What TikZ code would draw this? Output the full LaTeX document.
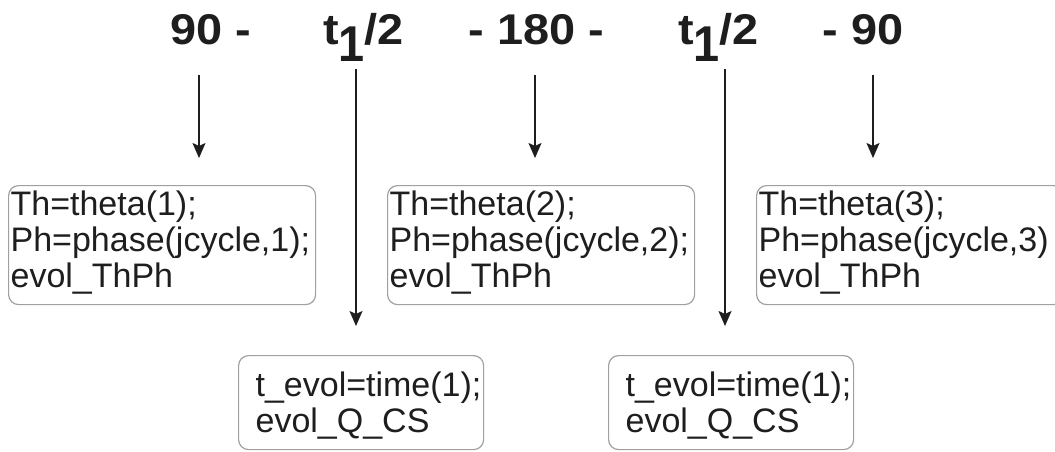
\documentclass[tikz,border=0pt]{standalone}
\usepackage{fontspec}
\setmainfont{Liberation Sans}
\usetikzlibrary{arrows.meta}
\definecolor{ink}{HTML}{1E1E1E}
\definecolor{frame}{HTML}{A0A0A0}
\tikzset{
  lbl/.style={anchor=base west, inner sep=0pt, text=ink,
    font=\fontsize{43}{43}\selectfont\bfseries},
  arr/.style={draw=ink, line width=1.7pt,
    -{Stealth[length=15pt,width=13pt,inset=3pt]}},
  codebox/.style={draw=frame, line width=1.2pt, rounded corners=10pt,
    anchor=north west, align=left, text=ink,
    font=\fontsize{34}{36}\selectfont, inner ysep=0pt},
  upbox/.style={codebox, inner xsep=2pt, text width=303pt,
    text height=30pt, text depth=89pt},
  lowbox/.style={codebox, inner xsep=1pt, text width=243pt,
    text height=41pt, text depth=53pt},
}
% wide bold labels and the half-period symbol
\newcommand\widelbl[1]{\scalebox{1.09}[1]{#1}}
\newcommand\halfperiod{t\raisebox{-17pt}{\scalebox{1}[1.17]{1}}/2}
\newcommand\ind{\hspace*{16pt}}
\begin{document}
\begin{tikzpicture}[x=1pt, y=-1pt]
  \useasboundingbox (0,0) rectangle (1055,451);
  \clip (0,0) rectangle (1055,451);
  \fill[white] (0,0) rectangle (1055,451);

  % pulse sequence
  \node[lbl] (l1) at (170,44)   {\widelbl{90 -}};
  \node[lbl] (l2) at (323,44)   {\widelbl{\halfperiod}};
  \node[lbl] (l3) at (468.7,44) {\widelbl{- 180 -}};
  \node[lbl] (l4) at (678,44)   {\widelbl{\halfperiod}};
  \node[lbl] (l5) at (822.7,44) {\widelbl{- 90}};

  % pulse blocks
  \node[upbox] (b1) at (8,185)
    {Th=theta(1);\\Ph=phase(jcycle,1);\\evol\_ThPh};
  \node[upbox] (b2) at (387,185)
    {Th=theta(2);\\Ph=phase(jcycle,2);\\evol\_ThPh};
  \node[upbox] (b3) at (756,185)
    {Th=theta(3);\\Ph=phase(jcycle,3)\\evol\_ThPh};

  % free evolution blocks
  \node[lowbox] (e1) at (238,355)
    {\ind t\_evol=time(1);\\\ind evol\_Q\_CS};
  \node[lowbox] (e2) at (608,355)
    {\ind t\_evol=time(1);\\\ind evol\_Q\_CS};

  % arrow columns
  \coordinate (a1) at (199,0);
  \coordinate (a2) at (356,0);
  \coordinate (a3) at (535,0);
  \coordinate (a4) at (725,0);
  \coordinate (a5) at (873,0);

  \draw[arr, shorten <=30pt, shorten >=27pt] (l1.south -| a1) -- (b1.north -| a1);
  \draw[arr, shorten <=8pt,  shorten >=29pt] (l2.south -| a2) -- (e1.north -| a2);
  \draw[arr, shorten <=30pt, shorten >=27pt] (l3.south -| a3) -- (b2.north -| a3);
  \draw[arr, shorten <=8pt,  shorten >=29pt] (l4.south -| a4) -- (e2.north -| a4);
  \draw[arr, shorten <=30pt, shorten >=27pt] (l5.south -| a5) -- (b3.north -| a5);
\end{tikzpicture}
\end{document}
